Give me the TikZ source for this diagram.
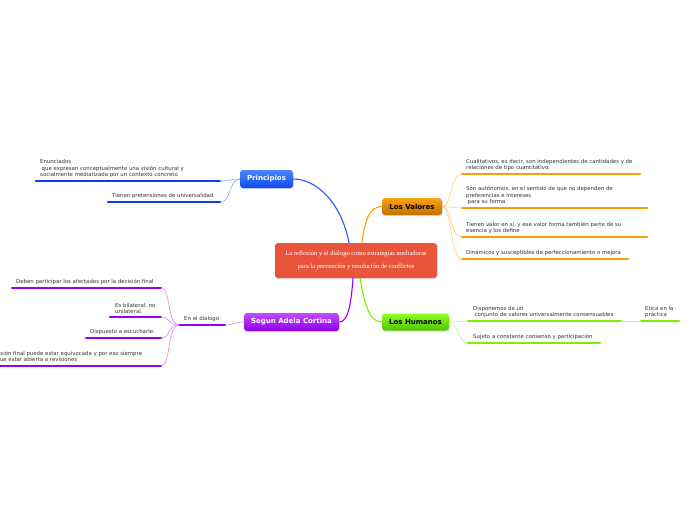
\documentclass[tikz,border=0pt]{standalone}
\usepackage{fontspec}
\setmainfont{DejaVu Sans}
\newfontfamily\serifc{Liberation Serif}
\usetikzlibrary{shadows}
\definecolor{txt}{HTML}{333333}
\definecolor{cblue}{HTML}{0A3CF5}
\definecolor{cbluel}{HTML}{8AA8FF}
\definecolor{corange}{HTML}{FF9C00}
\definecolor{corangel}{HTML}{FFCF85}
\definecolor{cgreen}{HTML}{7CF000}
\definecolor{cgreenl}{HTML}{B8FF80}
\definecolor{cpurple}{HTML}{9A00F5}
\definecolor{cpurplel}{HTML}{D08CFF}
\definecolor{ccenter}{HTML}{E8553B}
\definecolor{pbt}{HTML}{4A86FF}\definecolor{pbb}{HTML}{1048EE}
\definecolor{pot}{HTML}{F7A410}\definecolor{pob}{HTML}{C46E00}
\definecolor{pgt}{HTML}{8CFF20}\definecolor{pgb}{HTML}{52C400}
\definecolor{ppt}{HTML}{C04CFF}\definecolor{ppb}{HTML}{8E00E6}
\begin{document}
\begin{tikzpicture}[x=1pt,y=-1pt,
  topic/.style={rounded corners=3pt, font=\fontsize{7}{8}\selectfont\bfseries, inner sep=0pt,
     drop shadow={opacity=0.3, shadow xshift=0.6pt, shadow yshift=-1.2pt}},
  leaf/.style={font=\fontsize{5.4}{6.6}\selectfont, text=txt, align=left, inner sep=0pt, anchor=south west},
  uline/.style={line width=2.6pt, line cap=round},
  fan/.style={line width=0.6pt},
  main/.style={line width=1.1pt}
]
\useasboundingbox (0,0) rectangle (696,520);
\clip (0,0) rectangle (696,520);
\fill[white] (0,0) rectangle (696,520);

% central node
\node[rounded corners=3pt, fill=ccenter, minimum width=162pt, minimum height=35pt, inner sep=0pt,
  drop shadow={opacity=0.25, shadow xshift=0.6pt, shadow yshift=-1.2pt},
  text=white, align=center, font=\serifc\fontsize{6.5}{12.5}\selectfont] (C) at (356,260.5)
  {La reflexión y el diálogo como estrategias mediadoras\\para la prevención y resolución de conflictos};

% main topics
\node[topic, top color=pbt, bottom color=pbb, text=white, minimum width=53pt, minimum height=18pt] (P) at (266.5,179) {Principios};
\node[topic, top color=pot, bottom color=pob, text=black, minimum width=60pt, minimum height=17pt] (V) at (412,206.5) {Los Valores};
\node[topic, top color=pgt, bottom color=pgb, text=black, minimum width=67pt, minimum height=17pt] (H) at (415.5,322) {Los Humanos};
\node[topic, top color=ppt, bottom color=ppb, text=white, minimum width=95pt, minimum height=18pt] (S) at (291.5,322) {Segun Adela Cortina};

% main connectors
\draw[main, cblue!85!white] ([xshift=-7pt]C.north) .. controls (342,205) and (318,179) .. (P.east);
\draw[main, corange] ([xshift=6pt]C.north) .. controls (365,218) and (370,207) .. (V.west);
\draw[main, cpurple] ([xshift=-3pt]C.south) .. controls (351,305) and (348,322) .. (S.east);
\draw[main, cgreen] ([xshift=4pt]C.south) .. controls (364,300) and (368,322) .. (H.west);

% ---------- Principios ----------
\coordinate (p1a) at (36,181); \coordinate (p1b) at (220,181);
\coordinate (p2a) at (108,202); \coordinate (p2b) at (220,202);
\draw[uline, cblue] (p1a) -- (p1b);
\draw[uline, cblue] (p2a) -- (p2b);
\draw[fan, cbluel] (P.west) .. controls (230,179) and (230,181) .. (p1b);
\draw[fan, cbluel] (P.west) .. controls (228,180) and (232,202) .. (p2b);
\node[leaf] (pt1) at (40,178) {Enunciados\\\hspace{1.5pt}que expresan conceptualmente una visión cultural y\\socialmente mediatizada por un contexto concreto};
\node[leaf] (pt2) at (112,199) {Tienen pretensiones de universalidad};

% ---------- Los Valores ----------
\coordinate (v1a) at (462,174); \coordinate (v1b) at (640,174);
\coordinate (v2a) at (462,208); \coordinate (v2b) at (647,208);
\coordinate (v3a) at (462,237); \coordinate (v3b) at (647,237);
\coordinate (v4a) at (462,259); \coordinate (v4b) at (628,259);
\foreach \i in {1,2,3,4} {\draw[uline, corange] (v\i a) -- (v\i b);}
\draw[fan, corangel] (V.east) .. controls (452,207) and (450,174) .. (v1a);
\draw[fan, corangel] (V.east) .. controls (452,207) and (452,208) .. (v2a);
\draw[fan, corangel] (V.east) .. controls (452,207) and (450,237) .. (v3a);
\draw[fan, corangel] (V.east) .. controls (452,207) and (450,259) .. (v4a);
\node[leaf] (vt1) at (466,171) {Cualitativos, es decir, son independientes de cantidades y de\\relaciones de tipo cuantitativo.};
\node[leaf] (vt2) at (466,205) {Son autónomos, en el sentido de que no dependen de\\preferencias e intereses\\\hspace{1.5pt}para su forma};
\node[leaf] (vt3) at (466,234) {Tienen valor en sí, y ese valor forma también parte de su\\esencia y los define};
\node[leaf] (vt4) at (466,256) {Dinámicos y susceptibles de perfeccionamiento o mejora};

% ---------- Los Humanos ----------
\coordinate (h1a) at (468,321); \coordinate (h1b) at (621,321);
\coordinate (h2a) at (468,343); \coordinate (h2b) at (600,343);
\coordinate (e1a) at (641,321); \coordinate (e1b) at (679,321);
\draw[uline, cgreen] (h1a) -- (h1b);
\draw[uline, cgreen] (h2a) -- (h2b);
\draw[uline, cgreen] (e1a) -- (e1b);
\draw[fan, cgreenl] (H.east) .. controls (458,322) and (458,321) .. (h1a);
\draw[fan, cgreenl] (H.east) .. controls (458,322) and (458,343) .. (h2a);
\draw[fan, cgreenl] (h1b) -- (e1a);
\node[leaf] (ht1) at (473,318) {Disponemos de un\\\hspace{1.5pt}conjunto de valores universalmente consensuables};
\node[leaf] (ht2) at (473,340) {Sujeto a constante consenso y participación};
\node[leaf] (et1) at (645,318) {Etica en la\\práctica};

% ---------- Segun Adela Cortina ----------
\coordinate (da) at (179,325); \coordinate (db) at (225,325);
\draw[uline, cpurple] (da) -- (db);
\draw[fan, cpurplel] (S.west) .. controls (235,322) and (233,325) .. (db);
\node[leaf] (dt) at (184,322) {En el dialogo};
\coordinate (s1a) at (12,288); \coordinate (s1b) at (161,288);
\coordinate (s2a) at (110,317); \coordinate (s2b) at (161,317);
\coordinate (s3a) at (86,338); \coordinate (s3b) at (161,338);
\coordinate (s4a) at (-25,366); \coordinate (s4b) at (161,366);
\foreach \i in {1,2,3,4} {\draw[uline, cpurple] (s\i a) -- (s\i b);}
\draw[fan, cpurplel] (da) .. controls (167,325) and (171,288) .. (s1b);
\draw[fan, cpurplel] (da) .. controls (167,325) and (171,317) .. (s2b);
\draw[fan, cpurplel] (da) .. controls (167,325) and (171,338) .. (s3b);
\draw[fan, cpurplel] (da) .. controls (167,325) and (171,366) .. (s4b);
\node[leaf] (st1) at (16,285) {Deben participar los afectados por la decisión final};
\node[leaf] (st2) at (115,314) {Es bilateral, no\\unilateral.};
\node[leaf] (st3) at (90,335) {Dispuesto a escucharle.};
\node[leaf] (st4) at (-19,363) {La decisión final puede estar equivocada y por eso siempre\\tiene que estar abierta a revisiones};
\end{tikzpicture}
\end{document}
